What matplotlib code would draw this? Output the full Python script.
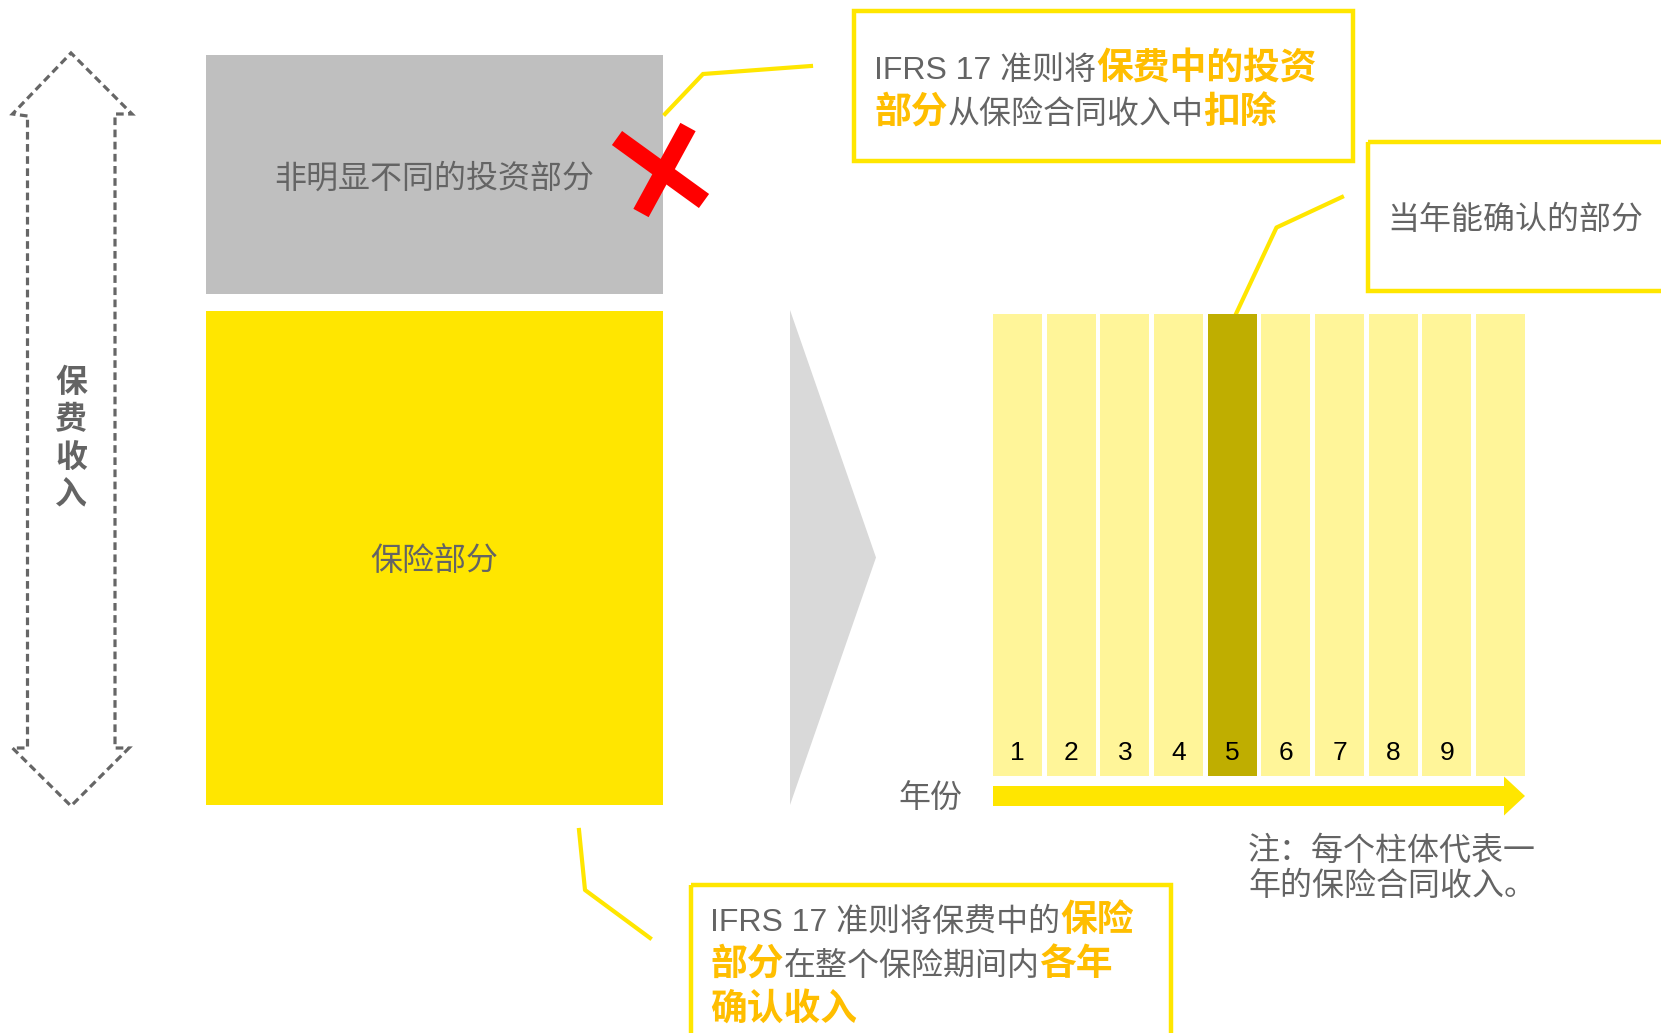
import matplotlib
matplotlib.use("Agg")
import matplotlib.pyplot as plt
from matplotlib.patches import Rectangle, Polygon, FancyArrow

plt.rcParams['font.family'] = ['Liberation Sans', 'Noto Sans CJK SC', 'DejaVu Sans']

# ---------------- data ----------------
years = [1, 2, 3, 4, 5, 6, 7, 8, 9, 10]
year_labels = ['1', '2', '3', '4', '5', '6', '7', '8', '9', '']
bar_heights = [1, 1, 1, 1, 1, 1, 1, 1, 1, 1]
highlight_year = 5

premium_label = '保费收入'
invest_label = '非明显不同的投资部分'
insure_label = '保险部分'
axis_label = '年份'
recognized_label = '当年能确认的部分'
note_lines = ['注：每个柱体代表一', '年的保险合同收入。']
top_box_lines = [
    [('IFRS 17 准则将', 'g'), ('保费中的投资', 'o')],
    [('部分', 'o'), ('从保险合同收入中', 'g'), ('扣除', 'o')],
]
bottom_box_lines = [
    [('IFRS 17 准则将保费中的', 'g'), ('保险', 'o')],
    [('部分', 'o'), ('在整个保险期间内', 'g'), ('各年', 'o')],
    [('确认收入', 'o')],
]

# ---------------- style ----------------
W, H = 1661, 1033
GRAY_TXT = '#646464'
ORANGE = '#FFBE00'
YELLOW = '#FFE600'
LIGHT = '#FFF599'
DARK = '#BFAE00'
GRAY_BOX = '#BFBFBF'
TRI = '#D9D9D9'
FS = 23
FS_B = 26.5
DY = 4  # small vertical correction for CJK centring

fig = plt.figure(figsize=(W / 100, H / 100), dpi=100)
ax = fig.add_axes([0, 0, 1, 1])
ax.set_xlim(0, W)
ax.set_ylim(H, 0)
ax.axis('off')
renderer = fig.canvas.get_renderer()

# dashed double arrow
dash_pts = [(27.5, 116), (12.5, 114), (71, 53), (132, 114), (115, 114),
            (115, 748), (129, 748), (71, 806), (12.5, 748), (27.5, 748)]
ax.add_patch(Polygon(dash_pts, closed=True, fill=False, edgecolor='#666666',
                     linewidth=2.3, linestyle=(0, (2.4, 1.4))))
ax.text(71, 436 + DY, '\n'.join(premium_label), ha='center', va='center',
        color=GRAY_TXT, fontsize=FS, fontweight='bold', linespacing=1.32)

# gray and yellow blocks
ax.add_patch(Rectangle((205.5, 55), 457.5, 238.5, facecolor=GRAY_BOX, edgecolor='none'))
ax.text(434, 175 + DY, invest_label, ha='center', va='center', color=GRAY_TXT, fontsize=FS)
ax.add_patch(Rectangle((205.5, 310.5), 457.5, 494.5, facecolor=YELLOW, edgecolor='none'))
ax.text(434, 558 + DY, insure_label, ha='center', va='center', color=GRAY_TXT, fontsize=FS)

# red cross
ax.plot([617, 704], [138, 201], color='#FF0000', lw=12.5, solid_capstyle='butt')
ax.plot([688, 641], [127, 213], color='#FF0000', lw=12.5, solid_capstyle='butt')

# triangle
ax.add_patch(Polygon([(790, 310), (876, 557.5), (790, 805)], closed=True,
                     facecolor=TRI, edgecolor='none'))

# callout lines
ax.plot([665, 703, 811], [114, 74, 66], color=YELLOW, lw=3, solid_joinstyle='miter')
ax.plot([1235, 1276.5, 1342], [316, 227.5, 197], color=YELLOW, lw=3)
ax.plot([579, 585, 650], [830, 890, 938], color=YELLOW, lw=3)

# boxes
ax.add_patch(Rectangle((854, 10.5), 499, 150.5, fill=False, edgecolor=YELLOW, lw=3.2))
ax.add_patch(Rectangle((1367.5, 141.5), 330, 149.5, fill=False, edgecolor=YELLOW, lw=3.2))
ax.add_patch(Rectangle((690.5, 884.5), 480, 200, fill=False, edgecolor=YELLOW, lw=3.2))


def rich_line(x, yc, segs):
    base = yc + 0.36 * FS * 100 / 72
    for s, kind in segs:
        if kind == 'o':
            t = ax.text(x, base, s, color=ORANGE, fontsize=FS_B, fontweight='bold',
                        ha='left', va='baseline')
        else:
            t = ax.text(x, base, s, color=GRAY_TXT, fontsize=FS, ha='left', va='baseline')
        bb = t.get_window_extent(renderer)
        x += bb.width


for i, segs in enumerate(top_box_lines):
    rich_line(874, 68 + i * 43.5, segs)
for i, segs in enumerate(bottom_box_lines):
    rich_line(710, 919 + i * 44.5, segs)

ax.text(1387, 217 + DY, recognized_label, ha='left', va='center', color=GRAY_TXT, fontsize=FS)
for i, s in enumerate(note_lines):
    ax.text(1248, 847.5 + DY + i * 35.5, s, ha='left', va='center', color=GRAY_TXT, fontsize=FS)
ax.text(930, 795.5 + DY, axis_label, ha='center', va='center', color=GRAY_TXT, fontsize=FS)

# year arrow
ax.add_patch(FancyArrow(993, 796, 532, 0, width=20, head_width=39, head_length=21,
                        length_includes_head=True, facecolor=YELLOW, edgecolor='none'))

# bars
bx0, bx1, by0, by1 = 993, 1525, 314, 775.7
ax2 = fig.add_axes([bx0 / W, 1 - by1 / H, (bx1 - bx0) / W, (by1 - by0) / H])
bw = 0.913
colors = [DARK if y == highlight_year else LIGHT for y in years]
ax2.bar(years, bar_heights, width=bw, color=colors, edgecolor='none')
ax2.set_xlim(years[0] - bw / 2, years[-1] + bw / 2)
ax2.set_ylim(0, max(bar_heights))
ax2.axis('off')
for y, lab in zip(years, year_labels):
    ax2.text(y, 0.05, lab, transform=ax2.get_xaxis_transform(), ha='center',
             va='center', fontsize=19, color='black')

fig.savefig('out.png', dpi=100)
